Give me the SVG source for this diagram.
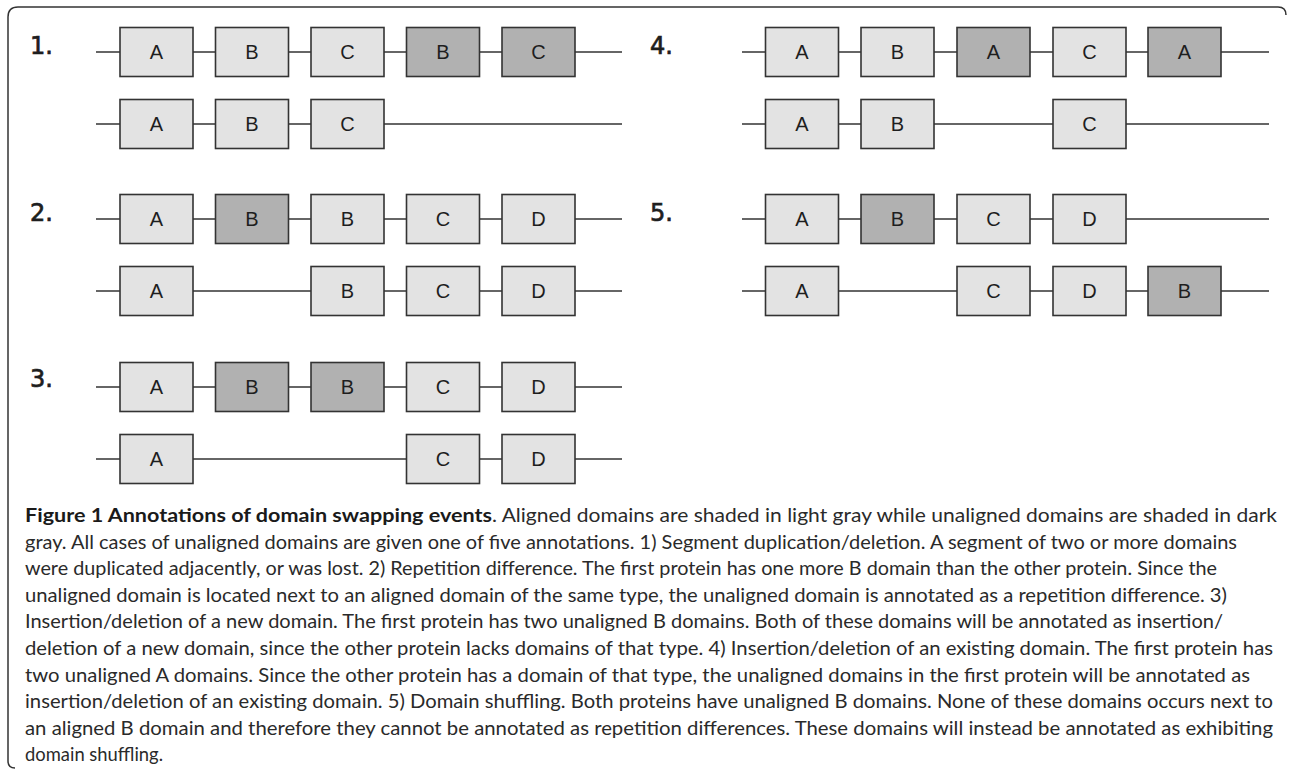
<svg xmlns="http://www.w3.org/2000/svg" width="1290" height="771" viewBox="0 0 1290 771">
<style>
.bg{fill:#ffffff}
.frame{fill:none;stroke:#333333;stroke-width:1.5}
.ln{stroke:#333333;stroke-width:1.6;fill:none}
.lt{fill:#e3e3e3;stroke:#333333;stroke-width:1.6}
.dk{fill:#b1b1b1;stroke:#333333;stroke-width:1.6}
.bl{font-family:"Liberation Sans",Arial,sans-serif;font-size:20px;fill:#1e1e1e;text-anchor:middle}
.pn{font-family:"DejaVu Sans",sans-serif;font-size:24px;fill:#1e1e1e;stroke:#1e1e1e;stroke-width:0.7}
.cap{font-family:Lato,"Open Sans",sans-serif;font-size:19px;fill:#2a2a2a}
.capb{font-family:Lato,"Open Sans",sans-serif;font-size:19px;font-weight:bold;fill:#1a1a1a}
</style>
<rect class="bg" x="0" y="0" width="1290" height="771"/>
<path class="frame" d="M 15 768 Q 8 768 8 761 L 8 17 Q 8 7 18 7 L 1278 7 Q 1286 7 1286 15"/>

<g id="connectors">
  <line class="ln" x1="96" y1="52" x2="622" y2="52"/>
  <line class="ln" x1="96" y1="124" x2="622" y2="124"/>
  <line class="ln" x1="96" y1="219" x2="622" y2="219"/>
  <line class="ln" x1="96" y1="291" x2="622" y2="291"/>
  <line class="ln" x1="96" y1="387" x2="622" y2="387"/>
  <line class="ln" x1="96" y1="459" x2="622" y2="459"/>
  <line class="ln" x1="742" y1="52" x2="1269" y2="52"/>
  <line class="ln" x1="742" y1="124" x2="1269" y2="124"/>
  <line class="ln" x1="742" y1="219" x2="1269" y2="219"/>
  <line class="ln" x1="742" y1="291" x2="1269" y2="291"/>
</g>

<g id="panel-labels">
  <text class="pn" x="30" y="54">1.</text>
  <text class="pn" x="30" y="221">2.</text>
  <text class="pn" x="30" y="387">3.</text>
  <text class="pn" x="650" y="54">4.</text>
  <text class="pn" x="650" y="221">5.</text>
</g>

<!-- Panel 1 -->
<g id="p1r1a"><rect class="lt" x="120" y="27.5" width="73" height="49"/><text class="bl" x="156.5" y="59">A</text></g>
<g id="p1r1b"><rect class="lt" x="215.5" y="27.5" width="73" height="49"/><text class="bl" x="252" y="59">B</text></g>
<g id="p1r1c"><rect class="lt" x="311" y="27.5" width="73" height="49"/><text class="bl" x="347.5" y="59">C</text></g>
<g id="p1r1b2"><rect class="dk" x="406.5" y="27.5" width="73" height="49"/><text class="bl" x="443" y="59">B</text></g>
<g id="p1r1c2"><rect class="dk" x="502" y="27.5" width="73" height="49"/><text class="bl" x="538.5" y="59">C</text></g>
<g id="p1r2a"><rect class="lt" x="120" y="99.5" width="73" height="49"/><text class="bl" x="156.5" y="131">A</text></g>
<g id="p1r2b"><rect class="lt" x="215.5" y="99.5" width="73" height="49"/><text class="bl" x="252" y="131">B</text></g>
<g id="p1r2c"><rect class="lt" x="311" y="99.5" width="73" height="49"/><text class="bl" x="347.5" y="131">C</text></g>

<!-- Panel 2 -->
<g id="p2r1a"><rect class="lt" x="120" y="194.5" width="73" height="49"/><text class="bl" x="156.5" y="226">A</text></g>
<g id="p2r1b"><rect class="dk" x="215.5" y="194.5" width="73" height="49"/><text class="bl" x="252" y="226">B</text></g>
<g id="p2r1b2"><rect class="lt" x="311" y="194.5" width="73" height="49"/><text class="bl" x="347.5" y="226">B</text></g>
<g id="p2r1c"><rect class="lt" x="406.5" y="194.5" width="73" height="49"/><text class="bl" x="443" y="226">C</text></g>
<g id="p2r1d"><rect class="lt" x="502" y="194.5" width="73" height="49"/><text class="bl" x="538.5" y="226">D</text></g>
<g id="p2r2a"><rect class="lt" x="120" y="266.5" width="73" height="49"/><text class="bl" x="156.5" y="298">A</text></g>
<g id="p2r2b"><rect class="lt" x="311" y="266.5" width="73" height="49"/><text class="bl" x="347.5" y="298">B</text></g>
<g id="p2r2c"><rect class="lt" x="406.5" y="266.5" width="73" height="49"/><text class="bl" x="443" y="298">C</text></g>
<g id="p2r2d"><rect class="lt" x="502" y="266.5" width="73" height="49"/><text class="bl" x="538.5" y="298">D</text></g>

<!-- Panel 3 -->
<g id="p3r1a"><rect class="lt" x="120" y="362.5" width="73" height="49"/><text class="bl" x="156.5" y="394">A</text></g>
<g id="p3r1b"><rect class="dk" x="215.5" y="362.5" width="73" height="49"/><text class="bl" x="252" y="394">B</text></g>
<g id="p3r1b2"><rect class="dk" x="311" y="362.5" width="73" height="49"/><text class="bl" x="347.5" y="394">B</text></g>
<g id="p3r1c"><rect class="lt" x="406.5" y="362.5" width="73" height="49"/><text class="bl" x="443" y="394">C</text></g>
<g id="p3r1d"><rect class="lt" x="502" y="362.5" width="73" height="49"/><text class="bl" x="538.5" y="394">D</text></g>
<g id="p3r2a"><rect class="lt" x="120" y="434.5" width="73" height="49"/><text class="bl" x="156.5" y="466">A</text></g>
<g id="p3r2c"><rect class="lt" x="406.5" y="434.5" width="73" height="49"/><text class="bl" x="443" y="466">C</text></g>
<g id="p3r2d"><rect class="lt" x="502" y="434.5" width="73" height="49"/><text class="bl" x="538.5" y="466">D</text></g>

<!-- Panel 4 -->
<g id="p4r1a"><rect class="lt" x="765.5" y="27.5" width="73" height="49"/><text class="bl" x="802" y="59">A</text></g>
<g id="p4r1b"><rect class="lt" x="861" y="27.5" width="73" height="49"/><text class="bl" x="897.5" y="59">B</text></g>
<g id="p4r1a2"><rect class="dk" x="957" y="27.5" width="73" height="49"/><text class="bl" x="993.5" y="59">A</text></g>
<g id="p4r1c"><rect class="lt" x="1053" y="27.5" width="73" height="49"/><text class="bl" x="1089.5" y="59">C</text></g>
<g id="p4r1a3"><rect class="dk" x="1148" y="27.5" width="73" height="49"/><text class="bl" x="1184.5" y="59">A</text></g>
<g id="p4r2a"><rect class="lt" x="765.5" y="99.5" width="73" height="49"/><text class="bl" x="802" y="131">A</text></g>
<g id="p4r2b"><rect class="lt" x="861" y="99.5" width="73" height="49"/><text class="bl" x="897.5" y="131">B</text></g>
<g id="p4r2c"><rect class="lt" x="1053" y="99.5" width="73" height="49"/><text class="bl" x="1089.5" y="131">C</text></g>

<!-- Panel 5 -->
<g id="p5r1a"><rect class="lt" x="765.5" y="194.5" width="73" height="49"/><text class="bl" x="802" y="226">A</text></g>
<g id="p5r1b"><rect class="dk" x="861" y="194.5" width="73" height="49"/><text class="bl" x="897.5" y="226">B</text></g>
<g id="p5r1c"><rect class="lt" x="957" y="194.5" width="73" height="49"/><text class="bl" x="993.5" y="226">C</text></g>
<g id="p5r1d"><rect class="lt" x="1053" y="194.5" width="73" height="49"/><text class="bl" x="1089.5" y="226">D</text></g>
<g id="p5r2a"><rect class="lt" x="765.5" y="266.5" width="73" height="49"/><text class="bl" x="802" y="298">A</text></g>
<g id="p5r2c"><rect class="lt" x="957" y="266.5" width="73" height="49"/><text class="bl" x="993.5" y="298">C</text></g>
<g id="p5r2d"><rect class="lt" x="1053" y="266.5" width="73" height="49"/><text class="bl" x="1089.5" y="298">D</text></g>
<g id="p5r2b"><rect class="dk" x="1148" y="266.5" width="73" height="49"/><text class="bl" x="1184.5" y="298">B</text></g>

<g id="caption">
  <text class="capb" x="25" y="522" textLength="467" lengthAdjust="spacingAndGlyphs">Figure 1 Annotations of domain swapping events</text>
  <text class="cap" x="492" y="522" textLength="785" lengthAdjust="spacingAndGlyphs">. Aligned domains are shaded in light gray while unaligned domains are shaded in dark</text>
  <text class="cap" x="25" y="548.6" textLength="1212" lengthAdjust="spacingAndGlyphs">gray. All cases of unaligned domains are given one of five annotations. 1) Segment duplication/deletion. A segment of two or more domains</text>
  <text class="cap" x="25" y="575.2" textLength="1192" lengthAdjust="spacingAndGlyphs">were duplicated adjacently, or was lost. 2) Repetition difference. The first protein has one more B domain than the other protein. Since the</text>
  <text class="cap" x="25" y="601.8" textLength="1202" lengthAdjust="spacingAndGlyphs">unaligned domain is located next to an aligned domain of the same type, the unaligned domain is annotated as a repetition difference. 3)</text>
  <text class="cap" x="25" y="628.4" textLength="1198" lengthAdjust="spacingAndGlyphs">Insertion/deletion of a new domain. The first protein has two unaligned B domains. Both of these domains will be annotated as insertion/</text>
  <text class="cap" x="25" y="655" textLength="1248" lengthAdjust="spacingAndGlyphs">deletion of a new domain, since the other protein lacks domains of that type. 4) Insertion/deletion of an existing domain. The first protein has</text>
  <text class="cap" x="25" y="681.6" textLength="1225" lengthAdjust="spacingAndGlyphs">two unaligned A domains. Since the other protein has a domain of that type, the unaligned domains in the first protein will be annotated as</text>
  <text class="cap" x="25" y="708.2" textLength="1248" lengthAdjust="spacingAndGlyphs">insertion/deletion of an existing domain. 5) Domain shuffling. Both proteins have unaligned B domains. None of these domains occurs next to</text>
  <text class="cap" x="25" y="734.8" textLength="1248" lengthAdjust="spacingAndGlyphs">an aligned B domain and therefore they cannot be annotated as repetition differences. These domains will instead be annotated as exhibiting</text>
  <text class="cap" x="25" y="761.4" textLength="138" lengthAdjust="spacingAndGlyphs">domain shuffling.</text>
</g>
</svg>
